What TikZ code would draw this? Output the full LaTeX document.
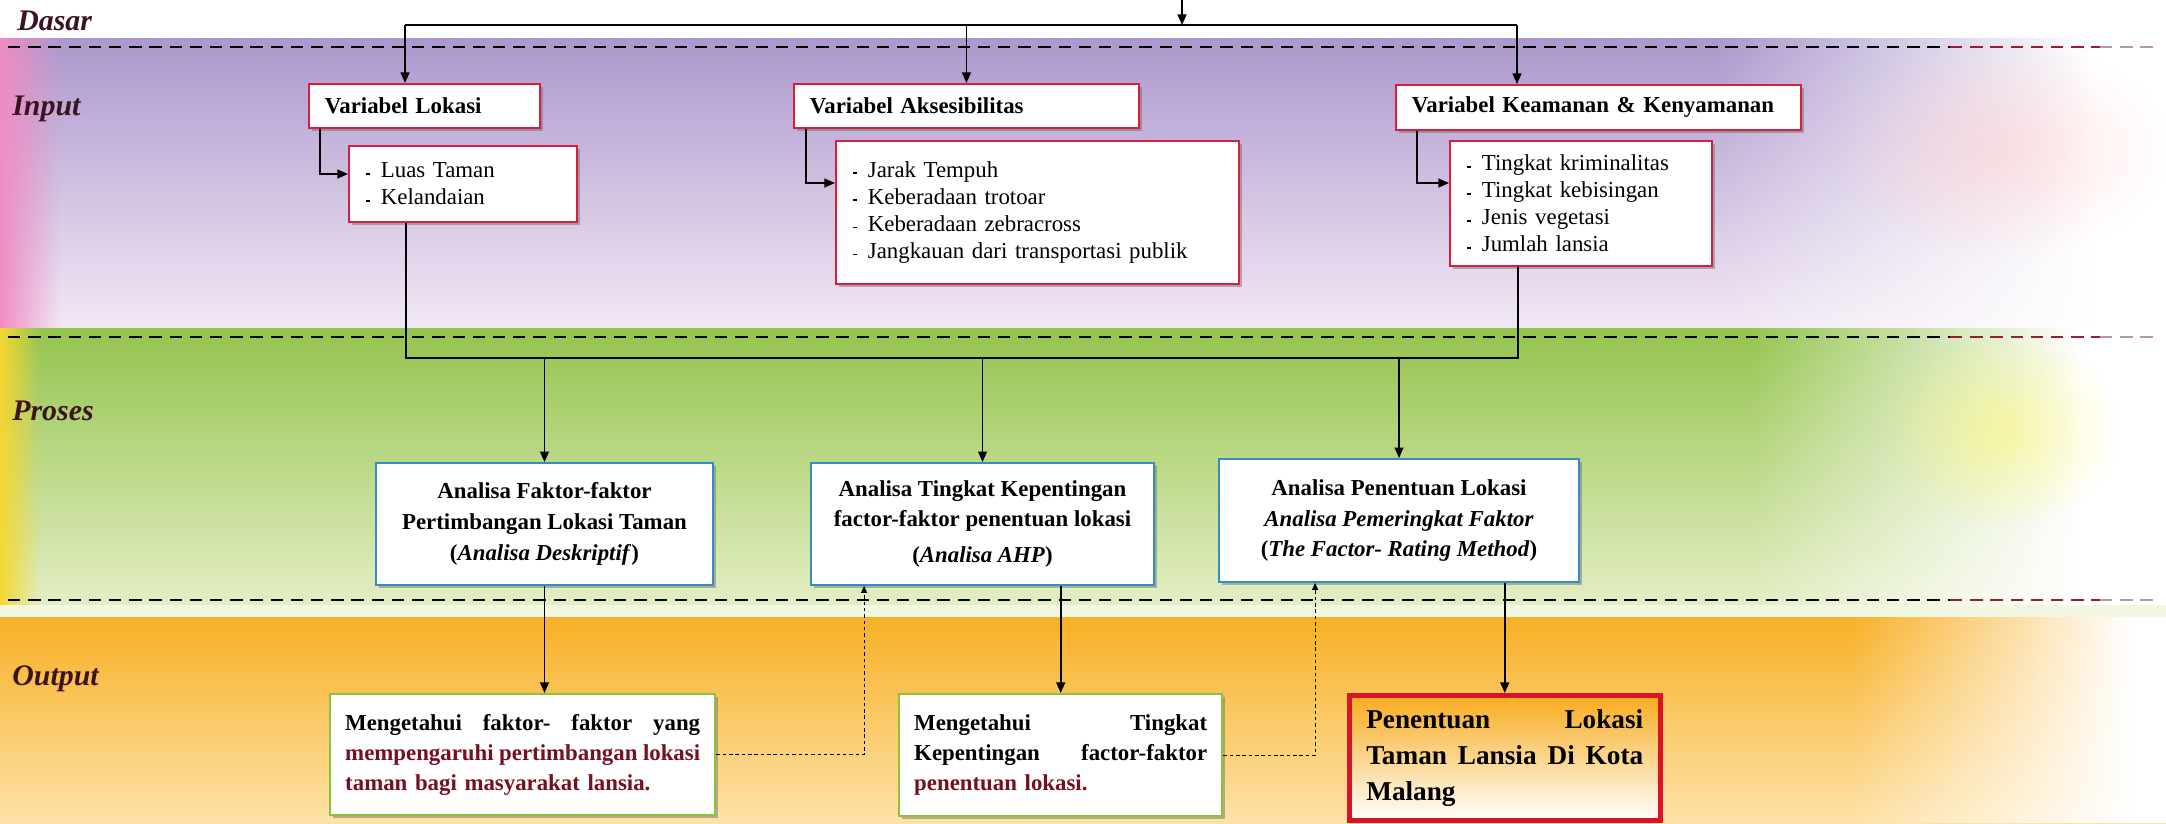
\documentclass[tikz,border=0pt]{standalone}
\usepackage{fontspec}
\setmainfont{Liberation Serif}
\usepackage{xcolor}
\usetikzlibrary{calc,arrows.meta,shadows,fadings}

\definecolor{labelcol}{RGB}{60,20,30}
\definecolor{inred}{RGB}{215,30,60}
\definecolor{problue}{RGB}{55,140,200}
\definecolor{outgreen}{RGB}{140,195,60}
\definecolor{finred}{RGB}{215,20,40}
\definecolor{finorange}{RGB}{248,172,30}
\definecolor{txtred}{RGB}{120,15,30}
\definecolor{purpletop}{RGB}{172,152,205}
\definecolor{purplebot}{RGB}{242,232,244}
\definecolor{pinkedge}{RGB}{240,140,195}
\definecolor{greentop}{RGB}{148,196,78}
\definecolor{greenbot}{RGB}{228,238,196}
\definecolor{yellowedge}{RGB}{245,215,50}
\definecolor{orangetop}{RGB}{248,176,38}
\definecolor{orangebot}{RGB}{253,226,168}
\definecolor{dashred}{RGB}{150,30,50}

\tikzfading[name=softglow, inner color=transparent!0, outer color=transparent!100]

\newcommand{\itm}{\makebox[8.5pt][l]{\raisebox{0.3ex}{\rule{2.2pt}{1pt}}}}

\tikzset{
  lbl/.style={anchor=base west, inner sep=0pt, text=labelcol, font=\fontsize{17}{20}\selectfont\bfseries\itshape},
  boxshadow/.style={drop shadow={shadow xshift=1.6pt, shadow yshift=-1.6pt, opacity=0.45, fill=black!60}},
  varbox/.style={draw=inred, line width=1.1pt, fill=white, boxshadow, anchor=north west, align=left, inner xsep=0.32cm, inner ysep=0pt, font=\fontsize{13}{15}\selectfont\bfseries},
  listbox/.style={varbox, inner xsep=0.34cm, font=\fontsize{13}{15.4}\selectfont},
  probox/.style={draw=problue, line width=1.1pt, fill=white, boxshadow, align=center, inner sep=0pt, font=\fontsize{13}{17.5}\selectfont\bfseries},
  outbox/.style={draw=outgreen, line width=1.4pt, fill=white, boxshadow, anchor=north west, align=left, inner xsep=0.3cm, inner ysep=0pt, font=\fontsize{13}{17}\selectfont\bfseries},
  finbox/.style={outbox, draw=finred, line width=2.6pt, top color=finorange, middle color=finorange!25!white, bottom color=white, inner xsep=0.34cm, font=\fontsize{15.5}{20.5}\selectfont\bfseries},
  wire/.style={line width=0.9pt},
  conn/.style={wire, -{Triangle[length=6pt,width=5pt]}},
  dotconn/.style={line width=0.6pt, dash pattern=on 2pt off 1.6pt, -{Triangle[length=4pt,width=3.5pt]}},
  sepline/.style={line width=1.5pt, dash pattern=on 7pt off 4.5pt}
}

\begin{document}
\begin{tikzpicture}[x=0.02cm, y=-0.02cm]
  \useasboundingbox (0,0) rectangle (2166,823);

  % Draw the coloured bands
  \fill[white] (0,0) rectangle (2166,823);
  \shade[top color=purpletop, bottom color=purplebot] (0,38) rectangle (2166,328);
  \fill[pinkedge, path fading=east] (0,38) rectangle (60,328);
  \fill[white, path fading=west] (1720,38) rectangle (2090,328);
  \fill[white] (2090,38) rectangle (2166,328);
  \fill[pink!80!white, fill opacity=0.5, path fading=softglow] (2000,150) ellipse (170 and 110);
  \shade[top color=greentop, bottom color=greenbot] (0,328) rectangle (2166,605);
  \fill[yellowedge, path fading=east] (0,328) rectangle (40,605);
  \fill[white, path fading=west] (1750,328) rectangle (2080,605);
  \fill[white] (2080,328) rectangle (2166,605);
  \fill[yellow!60!white, fill opacity=0.5, path fading=softglow] (2000,430) ellipse (120 and 100);
  \fill[greenbot!50!white] (0,605) rectangle (2166,617);
  \shade[top color=orangetop, bottom color=orangebot] (0,617) rectangle (2166,823);
  \fill[white, path fading=west] (1850,617) rectangle (2130,823);
  \fill[white] (2130,617) rectangle (2166,823);

  % Dashed separators
  \foreach \yy in {47,337,600} {
    \draw[sepline] (8,\yy) -- (1950,\yy);
    \draw[sepline, dashred] (1950,\yy) -- (2100,\yy);
    \draw[sepline, dashred!40!gray!60!white] (2100,\yy) -- (2160,\yy);
  }

  % Row labels
  \node[lbl] (dasar) at (17,30) {Dasar};
  \node[lbl] (input) at (12,115) {Input};
  \node[lbl] (proses) at (12,420) {Proses};
  \node[lbl] (output) at (12,685) {Output};

  % Input boxes
  \node[varbox, text width=3.98cm, minimum height=0.88cm] (varLok) at (308,83) {Variabel Lokasi};
  \node[listbox, text width=3.88cm, minimum height=1.52cm] (subLok) at (348,145) {\itm Luas Taman\\ \itm Kelandaian};
  \node[varbox, text width=6.26cm, minimum height=0.88cm] (varAks) at (793,83) {Variabel Aksesibilitas};
  \node[listbox, text width=7.38cm, minimum height=2.86cm] (subAks) at (835,140) {\itm Jarak Tempuh\\ \itm Keberadaan trotoar\\ \itm Keberadaan zebracross\\ \itm Jangkauan dari transportasi publik};
  \node[varbox, text width=7.46cm, minimum height=0.9cm] (varKea) at (1395,84) {Variabel Keamanan \& Kenyamanan};
  \node[listbox, text width=4.56cm, minimum height=2.5cm] (subKea) at (1449,140) {\itm Tingkat kriminalitas\\ \itm Tingkat kebisingan\\ \itm Jenis vegetasi\\ \itm Jumlah lansia};

  % Proses boxes
  \node[probox, minimum width=6.74cm, minimum height=2.44cm] (pA) at (544.5,524) {Analisa Faktor-faktor\\ Pertimbangan Lokasi Taman\\ (\textit{Analisa Deskriptif})};
  \node[probox, minimum width=6.86cm, minimum height=2.44cm] (pB) at (982.5,524) {Analisa Tingkat Kepentingan\\ factor-faktor penentuan lokasi\\[3pt] (\textit{Analisa AHP})};
  \node[probox, minimum width=7.2cm, minimum height=2.46cm] (pC) at (1399,520.5) {Analisa Penentuan Lokasi\\ \textit{Analisa Pemeringkat Faktor}\\ (\textit{The Factor- Rating Method})};

  % Output boxes
  \node[outbox, text width=7.1cm, minimum height=2.42cm] (oA) at (329,693) {Mengetahui\hfill faktor-\hfill faktor\hfill yang\\ \color{txtred}mempengaruhi\hfill pertimbangan\hfill lokasi\\ taman bagi masyarakat lansia.};
  \node[outbox, text width=5.86cm, minimum height=2.44cm] (oB) at (898,693) {Mengetahui\hfill Tingkat\\ Kepentingan\hfill factor-faktor\\ \color{txtred}penentuan lokasi.};
  \node[finbox, text width=5.54cm, minimum height=2.5cm] (oC) at (1347,693) {Penentuan\hfill Lokasi\\ Taman\hfill Lansia\hfill Di\hfill Kota\\ Malang};

  % Feed from above and split to the variables
  \coordinate (feed) at (1182,0);
  \coordinate (split) at (1182,25);
  \coordinate (splitL) at (405,25);
  \coordinate (splitR) at (1517,25);
  \draw[conn] (feed) -- (split);
  \draw[wire] (splitL) -- (splitR);
  \draw[conn] (splitL) -- (splitL |- varLok.north);
  \draw[conn] (varAks.north |- splitL) -- (varAks.north);
  \draw[conn] (splitR) -- (splitR |- varKea.north);

  % Elbows to the lists
  \draw[conn] ($(varLok.south west)+(12,0)$) |- ($(subLok.north west)+(0,29)$);
  \draw[conn] ($(varAks.south west)+(13,0)$) |- ($(subAks.north west)+(0,43)$);
  \draw[conn] ($(varKea.south west)+(22,0)$) |- ($(subKea.north west)+(0,43)$);

  % Collecting bus and arrows to the analyses
  \coordinate (busL) at (406,358);
  \coordinate (busR) at (1518,358);
  \draw[wire] (subLok.south -| busL) -- (busL) -- (busR) -- (subKea.south -| busR);
  \draw[conn] (pA.north |- busL) -- (pA.north);
  \draw[conn] (pB.north |- busL) -- (pB.north);
  \draw[conn] (pC.north |- busL) -- (pC.north);

  % Analyses to outputs
  \draw[conn] (pA.south) -- (pA.south |- oA.north);
  \draw[conn] (oB.north |- pB.south) -- (oB.north);
  \draw[conn] (oC.north |- pC.south) -- (oC.north);

  % Feedback (dotted)
  \draw[dotconn] (oA.east) -| ($(pB.south west)+(54,0)$);
  \draw[dotconn] (oB.east) -| ($(pC.south west)+(97,0)$);
\end{tikzpicture}
\end{document}
